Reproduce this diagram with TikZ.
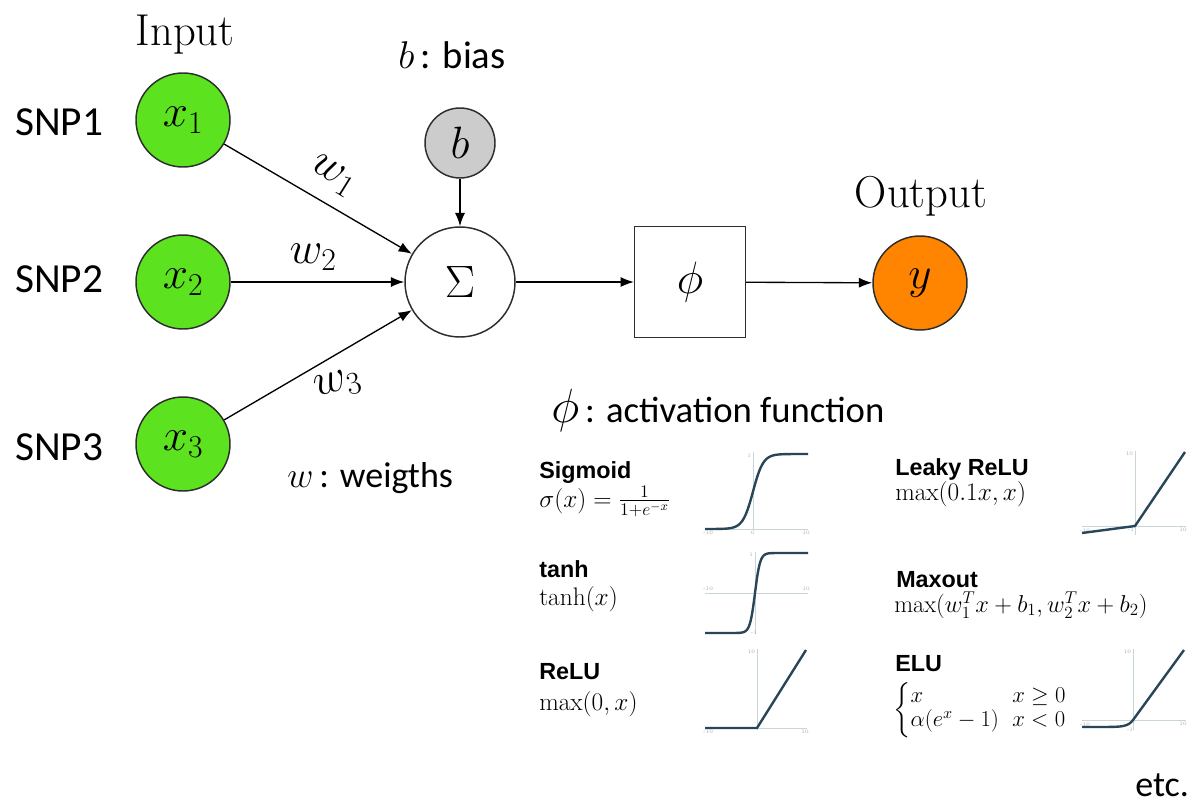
\RequirePackage{fix-cm}
\documentclass[tikz,border=0pt]{standalone}
\usepackage{amsmath}
\usepackage{fontspec}
\newfontfamily\calfont{Carlito}
\newfontfamily\arialfont{Liberation Sans}
\usetikzlibrary{arrows.meta}

\definecolor{nodegreen}{RGB}{92,226,30}
\definecolor{outorange}{RGB}{255,132,0}
\definecolor{biasgrey}{RGB}{204,204,204}
\definecolor{edgegrey}{RGB}{45,45,45}
\definecolor{axisgrey}{RGB}{200,214,218}
\definecolor{curvecol}{RGB}{40,70,88}

\tikzset{
  neuron/.style={circle,draw=edgegrey,line width=1.1pt,minimum size=70.5pt,
                 inner sep=0pt,font=\fontsize{34}{40}\selectfont},
  opbox/.style={rectangle,draw=edgegrey,line width=1.1pt,minimum size=83pt,
                inner sep=0pt,fill=white,font=\fontsize{34}{40}\selectfont},
  conn/.style={-{Latex[length=10pt,width=7.5pt]},line width=1pt},
  wlabel/.style={font=\fontsize{34}{40}\selectfont,inner sep=0pt},
  caption/.style={font=\calfont\fontsize{29}{34}\selectfont,anchor=base west,inner sep=0pt},
  heading/.style={font=\fontsize{33.5}{38}\selectfont,anchor=base,inner sep=0pt},
  fname/.style={font=\arialfont\bfseries\fontsize{17.5}{20}\selectfont,anchor=base west,inner sep=0pt},
  fexpr/.style={font=\fontsize{19}{22}\selectfont,anchor=base west,inner sep=0pt},
  axisline/.style={draw=axisgrey,line width=0.5pt},
  curve/.style={draw=curvecol,line width=1.8pt,line join=round},
  ticklbl/.style={font=\fontsize{4}{5}\selectfont,text=gray!70,inner sep=0.5pt}
}

\begin{document}
\begin{tikzpicture}[x=0.75pt,y=-0.75pt]
\useasboundingbox[fill=white] (0,0) rectangle (1204,807);

% ---------- neuron ----------
\node[heading] (inlbl) at (185,45) {Input};
\node[heading] (outlbl) at (921,207) {Output};

\node[neuron,fill=nodegreen] (x1) at (183,120) {$x_1$};
\node[neuron,fill=nodegreen] (x2) at (183,282) {$x_2$};
\node[neuron,fill=nodegreen] (x3) at (183,444) {$x_3$};

\node[caption,font=\calfont\fontsize{31}{36}\selectfont] (snp1) at (15,135) {SNP1};
\node[caption,font=\calfont\fontsize{31}{36}\selectfont] (snp2) at (15,292) {SNP2};
\node[caption,font=\calfont\fontsize{31}{36}\selectfont] (snp3) at (15,460) {SNP3};

\node[neuron,fill=biasgrey,minimum size=52.5pt] (b) at (460,143) {$b$};
\node[neuron,fill=white,minimum size=82.5pt] (sum) at (460,282) {$\Sigma$};
\node[opbox] (phi) at (690,282) {$\phi$};
\node[neuron,fill=outorange] (y) at (920,283) {$y$};

\draw[conn] (x1) -- (sum);
\draw[conn] (x2) -- (sum);
\draw[conn] (x3) -- (sum);
\draw[conn] (b) -- (sum);
\draw[conn] (sum) -- (phi);
\draw[conn] (phi) -- (y);

\node[wlabel,rotate=-32] (w1) at (333,176) {$w_1$};
\node[wlabel] (w2) at (313,257) {$w_2$};
\node[wlabel,rotate=14] (w3) at (338,385) {$w_3$};

% ---------- legend texts ----------
\node[caption] (bcap) at (398,68) {$b$\,: bias};
\node[caption,font=\calfont\fontsize{27}{32}\selectfont] (wcap) at (287,487) {$w$\,: weigths};
\node[caption,font=\calfont\fontsize{27.5}{32}\selectfont] (phicap) at (551,422)
  {{\fontsize{36}{40}\selectfont$\phi$}\,: activation function};
\node[caption,font=\calfont\fontsize{27}{32}\selectfont] (etc) at (1135,796) {etc.};

% ---------- activation functions ----------
\node[fname] (signame) at (539,478) {Sigmoid};
\node[fexpr] (sigexpr) at (539,507) {$\sigma(x)=\frac{1}{1+e^{-x}}$};
\node[fname] (tanhname) at (539,577) {tanh};
\node[fexpr] (tanhexpr) at (539,605) {$\tanh(x)$};
\node[fname] (reluname) at (539,679) {ReLU};
\node[fexpr] (reluexpr) at (539,710) {$\max(0,x)$};

\node[fname] (lrname) at (895,475) {Leaky ReLU};
\node[fexpr] (lrexpr) at (895,500) {$\max(0.1x,x)$};
\node[fname] (mxname) at (896,587) {Maxout};
\node[fexpr,font=\fontsize{18.3}{22}\selectfont] (mxexpr) at (894,612) {$\max(w_1^Tx+b_1,w_2^Tx+b_2)$};
\node[fname] (eluname) at (895,671) {ELU};
\node[fexpr,anchor=west] (eluexpr) at (893,710)
  {\fontsize{17}{17}\selectfont$\left\{\begin{array}{@{}l@{\hspace{10pt}}l@{}}
     x & x\geq 0\\ \alpha(e^x-1) & x<0\end{array}\right.$};

% sigmoid plot
\draw[axisline] (705,529) -- (808,529);
\draw[axisline] (753,452) -- (753,529);
\node[ticklbl,anchor=north] (s1) at (708,530) {-10};
\node[ticklbl,anchor=north] (s2) at (753,530) {0};
\node[ticklbl,anchor=north] (s3) at (806,530) {10};
\node[ticklbl,anchor=east] (s4) at (752,456) {1};
\draw[curve] (705,529) -- plot[domain=-9:9,samples=80] ({753+5.1*\x},{529-75/(1+exp(-\x))}) -- (808,454);

% tanh plot
\draw[axisline] (705,593) -- (808,593);
\draw[axisline] (755,552) -- (755,634);
\node[ticklbl,anchor=south] (t1) at (708,592) {-10};
\node[ticklbl,anchor=south] (t2) at (806,592) {10};
\node[ticklbl,anchor=east] (t3) at (754,555) {1};
\node[ticklbl,anchor=east] (t4) at (758,633) {-1};
\draw[curve] (705,633) -- plot[domain=-4:4,samples=80] ({755+5.1*\x},{593-40*tanh(\x)}) -- (808,553);

% ReLU plot
\draw[axisline] (705,728) -- (807,728);
\draw[axisline] (757,649) -- (757,730);
\node[ticklbl,anchor=north] (r1) at (708,729) {-10};
\node[ticklbl,anchor=north] (r2) at (805,729) {10};
\node[ticklbl,anchor=east] (r3) at (756,652) {10};
\draw[curve] (705,728) -- (757,728) -- (806,650);

% Leaky ReLU plot
\draw[axisline] (1082,526) -- (1186,526);
\draw[axisline] (1135,451) -- (1135,535);
\node[ticklbl,anchor=north] (l1) at (1085,528) {-10};
\node[ticklbl,anchor=north] (l2) at (1183,527) {10};
\node[ticklbl,anchor=north] (l3) at (1131,527) {-1};
\node[ticklbl,anchor=east] (l4) at (1134,454) {10};
\draw[curve] (1082,533) -- (1135,526) -- (1185,452);

% ELU plot
\draw[axisline] (1082,720) -- (1186,720);
\draw[axisline] (1133,649) -- (1133,730);
\node[ticklbl,anchor=north] (e1) at (1085,722) {-10};
\node[ticklbl,anchor=north] (e2) at (1183,721) {10};
\node[ticklbl,anchor=north] (e3) at (1130,727) {-1};
\node[ticklbl,anchor=east] (e4) at (1132,652) {10};
\draw[curve] plot[domain=-10:0,samples=40] ({1133+5.1*\x},{720-7*(exp(\x)-1)})
  -- plot[domain=0:10,samples=2] ({1133+5.1*\x},{720-7*\x});
\end{tikzpicture}
\end{document}
